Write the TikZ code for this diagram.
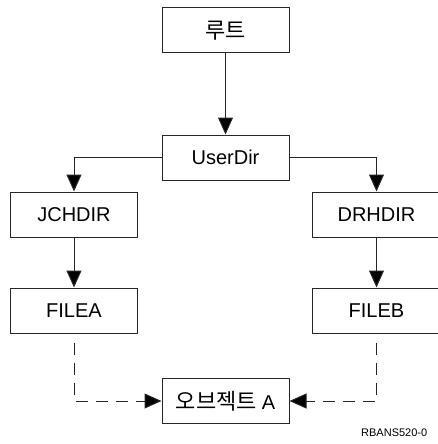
\documentclass[tikz,border=0pt]{standalone}
\usepackage{fontspec}
\setmainfont{Liberation Sans}
\newfontfamily\kr{Noto Sans CJK KR}[Scale=1.1]
\usetikzlibrary{arrows.meta}
\begin{document}
\begin{tikzpicture}[x=1pt,y=1pt,
  box/.style={draw=black!85,line width=1pt,minimum width=127pt,minimum height=45pt,inner sep=0pt,font=\fontsize{20}{24}\selectfont},
  arr/.style={draw=black!85,line width=1pt,-{Triangle[length=17pt,width=15pt,fill=black]}},
  dsh/.style={arr,dash pattern=on 12pt off 8pt}]
\useasboundingbox (0,0) rectangle (438,-444);
\node[box] (root) at (225.5,-30.5) {\kr 루트};
\node[box] (user) at (225.5,-157.5) {UserDir};
\node[box] (jch) at (74,-214.5) {JCHDIR};
\node[box,minimum width=129pt] (drh) at (376.5,-214.5) {DRHDIR};
\node[box] (filea) at (74,-310.5) {FILEA};
\node[box,minimum width=129pt] (fileb) at (376.5,-310.5) {FILEB};
\node[box] (obj) at (225.5,-401) {\kr 오브젝트 \rmfamily A};
\node[anchor=west,inner sep=0pt,font=\fontsize{11}{13}\selectfont] (lbl) at (361,-433) {RBANS520-0};
\draw[arr] (root) -- (user);
\draw[arr] (user.west) -| (jch.north);
\draw[arr] (user.east) -| (drh.north);
\draw[arr] (jch) -- (filea);
\draw[arr] (drh) -- (fileb);
\draw[dsh,shorten <=9pt] (filea.south) |- (obj.west);
\draw[dsh,shorten <=9pt] (fileb.south) |- (obj.east);
\end{tikzpicture}
\end{document}
